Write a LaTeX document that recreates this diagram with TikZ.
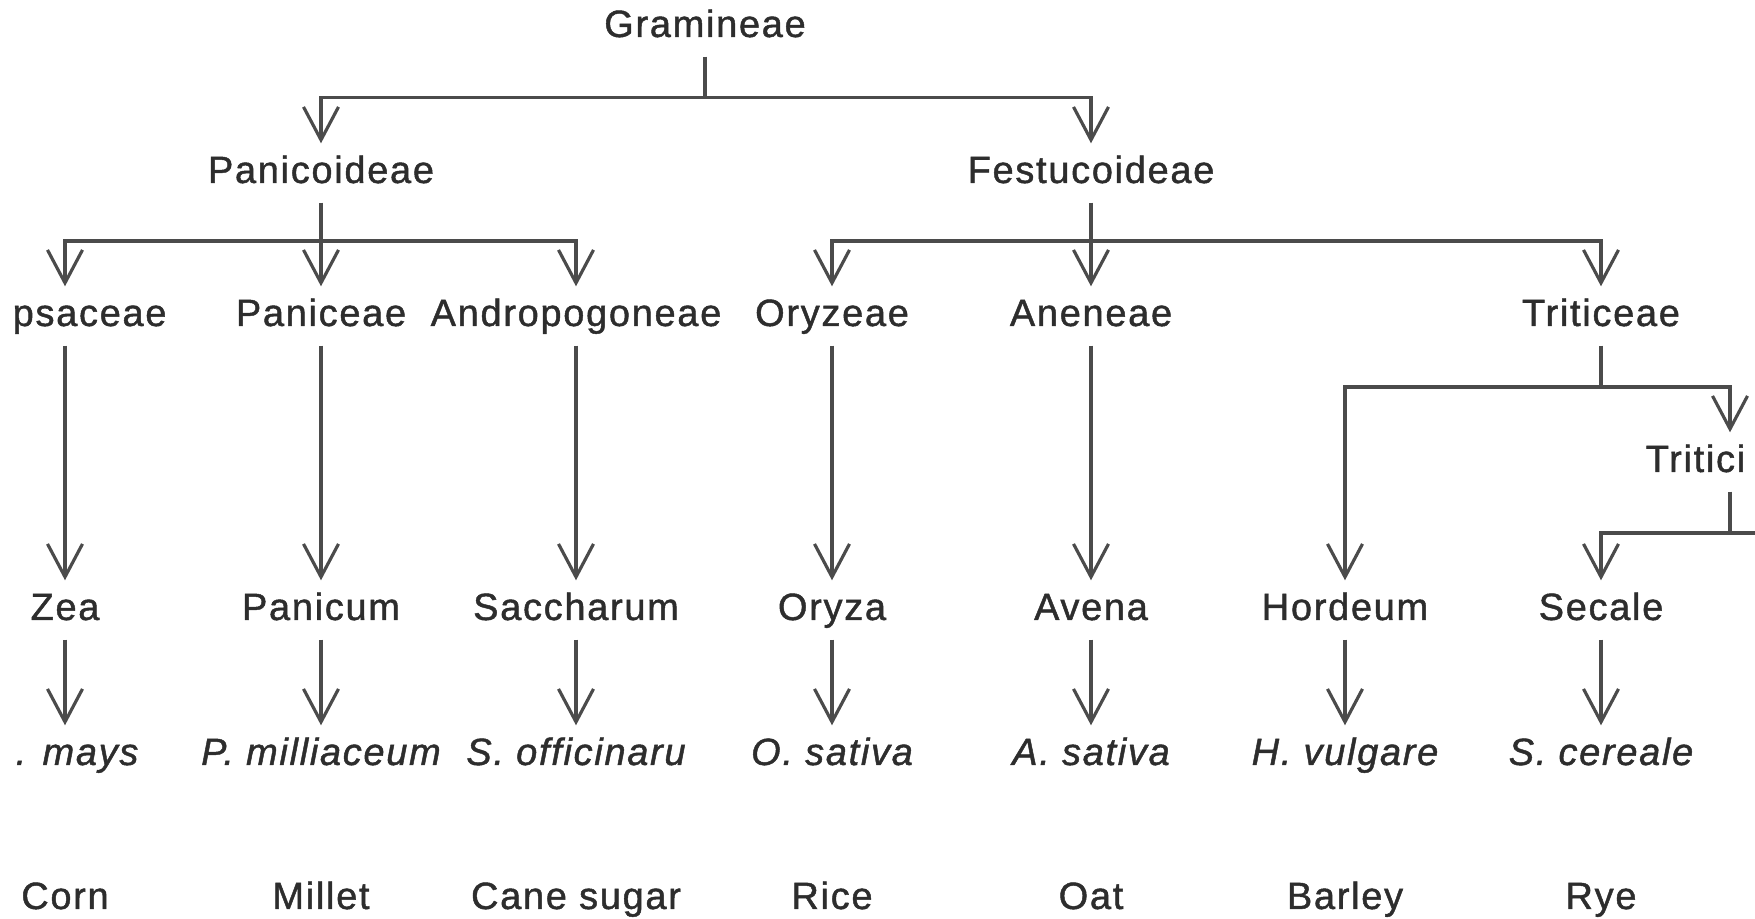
\documentclass[tikz,border=0pt]{standalone}
\usepackage{fontspec}
\setmainfont{Liberation Sans}[LetterSpace=4.5, FakeBold=1.2]
\usetikzlibrary{arrows.meta,positioning,calc}
\definecolor{inkgray}{RGB}{45,45,45}
\definecolor{linegray}{RGB}{75,75,75}
\tikzset{
  taxon/.style={inner xsep=0pt, inner ysep=0.11cm, text height=0.28cm,
                text depth=0.08cm, font=\fontsize{10.8}{13}\selectfont, text=inkgray},
  species/.style={taxon, font=\fontsize{10.8}{13}\selectfont\itshape},
  link/.style={line width=0.9pt, draw=linegray},
  arrow/.style={link, -{Straight Barb[length=0.33cm, width=0.35cm]}},
}

\begin{document}
\begin{tikzpicture}
  \useasboundingbox (0,0) rectangle (17.55,-9.19);
  % columns
  \coordinate (c1) at (0.65,0);
  \coordinate (c8) at (17.30,0);

  \node[taxon] (gram) at (7.05,-0.27) {Gramineae};
  \node[taxon] (panic) at (3.21,-1.73) {Panicoideae};
  \node[taxon] (festu) at (10.91,-1.73) {Festucoideae};

  \node[taxon, anchor=west] (trips) at (0.12,-3.16) {psaceae};
  \node[taxon] (panice) at (3.21,-3.16) {Paniceae};
  \node[taxon] (andro) at (5.76,-3.16) {Andropogoneae};
  \node[taxon] (oryze) at (8.32,-3.16) {Oryzeae};
  \node[taxon] (anen) at (10.91,-3.16) {Aneneae};
  \node[taxon] (tritc) at (16.01,-3.16) {Triticeae};
  \node[taxon, anchor=west] (tritn) at (16.45,-4.62) {Tritici};

  \node[taxon] (zea) at (0.65,-6.10) {Zea};
  \node[taxon] (panicum) at (3.21,-6.10) {Panicum};
  \node[taxon] (sacch) at (5.76,-6.10) {Saccharum};
  \node[taxon] (oryza) at (8.32,-6.10) {Oryza};
  \node[taxon] (avena) at (10.91,-6.10) {Avena};
  \node[taxon] (hord) at (13.45,-6.10) {Hordeum};
  \node[taxon] (secale) at (16.01,-6.10) {Secale};

  \node[species, anchor=west] (mays) at (0.15,-7.55) {. mays};
  \node[species] (pmil) at (3.21,-7.55) {P. milliaceum};
  \node[species] (soff) at (5.76,-7.55) {S. officinaru};
  \node[species] (osat) at (8.32,-7.55) {O. sativa};
  \node[species] (asat) at (10.91,-7.55) {A. sativa};
  \node[species] (hvul) at (13.45,-7.55) {H. vulgare};
  \node[species] (scer) at (16.01,-7.55) {S. cereale};

  \node[taxon] (corn) at (0.65,-8.99) {Corn};
  \node[taxon] (millet) at (3.21,-8.99) {Millet};
  \node[taxon] (cane) at (5.76,-8.99) {Cane sugar};
  \node[taxon] (rice) at (8.32,-8.99) {Rice};
  \node[taxon] (oat) at (10.91,-8.99) {Oat};
  \node[taxon] (barley) at (13.45,-8.99) {Barley};
  \node[taxon] (rye) at (16.01,-8.99) {Rye};

  % family split
  \coordinate (gbar) at ($(gram.south)+(0,-0.41)$);
  \draw[link] (gram.south) -- (gbar);
  \draw[arrow] (gbar) -| (panic.north);
  \draw[arrow] (gbar) -| (festu.north);

  % subfamilies
  \coordinate (pbar) at (3.21,-2.41);
  \draw[arrow] (panic.south) -- (panice.north);
  \draw[arrow] (pbar) -| (c1 |- trips.north);
  \draw[arrow] (pbar) -| (andro.north);
  \coordinate (fbar) at (10.91,-2.41);
  \draw[arrow] (festu.south) -- (anen.north);
  \draw[arrow] (fbar) -| (oryze.north);
  \draw[arrow] (fbar) -| (tritc.north);

  % tribes to genera
  \draw[arrow] (c1 |- trips.south) -- (zea.north);
  \draw[arrow] (panice.south) -- (panicum.north);
  \draw[arrow] (andro.south) -- (sacch.north);
  \draw[arrow] (oryze.south) -- (oryza.north);
  \draw[arrow] (anen.south) -- (avena.north);
  \coordinate (tbar) at (16.01,-3.87);
  \draw[link] (tritc.south) -- (tbar);
  \draw[arrow] (tbar) -| (hord.north);
  \draw[arrow] (tbar) -| (c8 |- tritn.north);
  \coordinate (tnbar) at (17.30,-5.33);
  \coordinate (tnend) at (17.55,-5.33);
  \draw[link] (c8 |- tritn.south) -- (tnbar);
  \draw[arrow] (tnend) -| (secale.north);

  % genera to species
  \draw[arrow] (zea.south) -- (c1 |- mays.north);
  \draw[arrow] (panicum.south) -- (pmil.north);
  \draw[arrow] (sacch.south) -- (soff.north);
  \draw[arrow] (oryza.south) -- (osat.north);
  \draw[arrow] (avena.south) -- (asat.north);
  \draw[arrow] (hord.south) -- (hvul.north);
  \draw[arrow] (secale.south) -- (scer.north);
\end{tikzpicture}
\end{document}
